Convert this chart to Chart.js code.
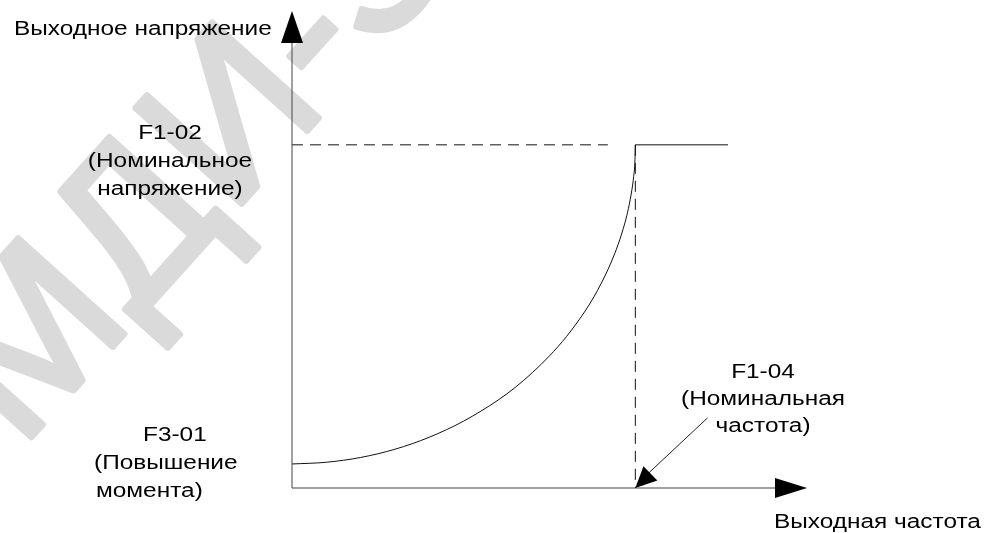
<!DOCTYPE html>
<html>
<head>
<meta charset="utf-8">
<script src="https://cdn.jsdelivr.net/npm/chart.js@4.4.0/dist/chart.umd.min.js"></script>
<style>
  html, body { margin: 0; padding: 0; background: #fff; }
  #wrap { width: 988px; height: 533px; }
</style>
</head>
<body>
<div id="wrap"><canvas id="chart" width="988" height="533"></canvas></div>
<script>
// Кривая U/f (квадратичная характеристика)
const curveFreq = [0, 10, 20, 30, 40, 50, 60, 65, 70, 75, 80, 85, 88, 90, 92, 94, 95, 97, 98, 99, 99.5, 99.9, 100];
const curveVolt = [7, 7.5, 8.9, 11.3, 14.8, 19.5, 25.6, 29.3, 33.6, 38.5, 44.2, 51.0, 55.8, 59.5, 63.6, 68.3, 71.0, 77.4, 81.5, 86.9, 90.7, 95.8, 100];

// Номинальные точки
const ratedFreq = 100;     // F1-04
const ratedVolt = 100;     // F1-02
const boostVolt = 7;       // F3-01
const dashEndFreq = 92;    // конец пунктира от оси напряжения
const flatEndFreq = 127;   // конец горизонтального участка
const axisMaxFreq = 150;
const axisMaxVolt = 139;

// Выноска к F1-04
const calloutFrom = [121, 20.4];
const calloutTo = [ratedFreq, 0];

const axisTitleY = 'Выходное напряжение';
const axisTitleX = 'Выходная частота';
const labelRatedVolt = ['F1-02', '(Номинальное', 'напряжение)'];
const labelBoost = ['F3-01', '(Повышение', 'момента)'];
const labelRatedFreq = ['F1-04', '(Номинальная', 'частота)'];

const FONT = '20px "Liberation Sans", Arial, sans-serif';
const STRETCH = 1.22; // шрифт на оригинале растянут по горизонтали

function toXY(xs, ys) {
    return xs.map((x, i) => ({ x: x, y: ys[i] }));
}

function arrowHead(ctx, tipX, tipY, fromX, fromY, len, half) {
    const a = Math.atan2(tipY - fromY, tipX - fromX);
    ctx.beginPath();
    ctx.moveTo(tipX, tipY);
    ctx.lineTo(tipX - len * Math.cos(a) + half * Math.sin(a), tipY - len * Math.sin(a) - half * Math.cos(a));
    ctx.lineTo(tipX - len * Math.cos(a) - half * Math.sin(a), tipY - len * Math.sin(a) + half * Math.cos(a));
    ctx.closePath();
    ctx.fill();
}

function text(ctx, str, x, y, align) {
    ctx.save();
    ctx.translate(x, y);
    ctx.scale(STRETCH, 1);
    ctx.textAlign = align || 'left';
    ctx.fillText(str, 0, 0);
    ctx.restore();
}

// Водяной знак на фоне
const watermarkPlugin = {
    id: 'watermark',
    beforeDatasetsDraw(chart) {
        const ctx = chart.ctx;
        ctx.save();
        ctx.translate(20, 450);
        ctx.rotate(-48 * Math.PI / 180);
        ctx.font = '208px "Liberation Sans", Arial, sans-serif';
        ctx.fillStyle = '#dadada';
        ctx.strokeStyle = '#dadada';
        ctx.lineWidth = 6;
        ctx.lineJoin = 'round';
        ctx.fillText('МДИ-З', 0, 0);
        ctx.strokeText('МДИ-З', 0, 0);
        ctx.restore();
    }
};

// Оси со стрелками и подписи
const axesPlugin = {
    id: 'axesArrows',
    afterDatasetsDraw(chart) {
        const ctx = chart.ctx;
        const xs = chart.scales.x, ys = chart.scales.y;
        const x0 = xs.getPixelForValue(0), y0 = ys.getPixelForValue(0);
        const xEnd = xs.getPixelForValue(axisMaxFreq), yEnd = ys.getPixelForValue(axisMaxVolt);

        ctx.save();
        ctx.strokeStyle = '#444';
        ctx.lineWidth = 1;
        ctx.beginPath();
        ctx.moveTo(x0, y0);
        ctx.lineTo(xEnd - 20, y0);
        ctx.moveTo(x0, y0);
        ctx.lineTo(x0, yEnd + 20);
        ctx.stroke();

        ctx.fillStyle = '#000';
        arrowHead(ctx, xEnd, y0, x0, y0, 32, 10);
        arrowHead(ctx, x0, yEnd, x0, y0, 32, 11);

        // выноска
        const fx = xs.getPixelForValue(calloutFrom[0]), fy = ys.getPixelForValue(calloutFrom[1]);
        const tx = xs.getPixelForValue(calloutTo[0]), ty = ys.getPixelForValue(calloutTo[1]);
        ctx.strokeStyle = '#222';
        ctx.beginPath();
        ctx.moveTo(fx, fy);
        ctx.lineTo(tx + 8, ty - 10);
        ctx.stroke();
        arrowHead(ctx, tx, ty, fx, fy, 21, 10);

        // подписи
        ctx.font = FONT;
        ctx.fillStyle = '#000';
        ctx.textBaseline = 'alphabetic';
        text(ctx, axisTitleY, 14, 35);
        text(ctx, axisTitleX, 774, 528);

        text(ctx, labelRatedVolt[0], 170, 139, 'center');
        text(ctx, labelRatedVolt[1], 170, 167, 'center');
        text(ctx, labelRatedVolt[2], 170, 195, 'center');

        text(ctx, labelBoost[0], 143, 441);
        text(ctx, labelBoost[1], 94, 469);
        text(ctx, labelBoost[2], 96, 497);

        text(ctx, labelRatedFreq[0], 763, 378, 'center');
        text(ctx, labelRatedFreq[1], 763, 405, 'center');
        text(ctx, labelRatedFreq[2], 763, 432, 'center');
        ctx.restore();
    }
};

new Chart(document.getElementById('chart'), {
    type: 'scatter',
    data: {
        datasets: [
            {
                data: toXY(curveFreq, curveVolt),
                showLine: true,
                borderColor: '#111',
                borderWidth: 1,
                pointRadius: 0,
                cubicInterpolationMode: 'monotone'
            },
            {
                data: toXY([0, dashEndFreq], [ratedVolt, ratedVolt]),
                showLine: true,
                borderColor: '#111',
                borderWidth: 1,
                borderDash: [11, 7],
                pointRadius: 0
            },
            {
                data: toXY([ratedFreq, ratedFreq], [ratedVolt, 0]),
                showLine: true,
                borderColor: '#111',
                borderWidth: 1,
                borderDash: [11, 7],
                pointRadius: 0
            },
            {
                data: toXY([ratedFreq, flatEndFreq], [ratedVolt, ratedVolt]),
                showLine: true,
                borderColor: '#111',
                borderWidth: 1,
                pointRadius: 0
            }
        ]
    },
    options: {
        responsive: false,
        animation: false,
        layout: { padding: { left: 292, right: 181, top: 11, bottom: 45 } },
        plugins: { legend: { display: false }, tooltip: { enabled: false } },
        scales: {
            x: { type: 'linear', display: false, min: 0, max: axisMaxFreq },
            y: { type: 'linear', display: false, min: 0, max: axisMaxVolt }
        }
    },
    plugins: [watermarkPlugin, axesPlugin]
});
</script>
</body>
</html>
